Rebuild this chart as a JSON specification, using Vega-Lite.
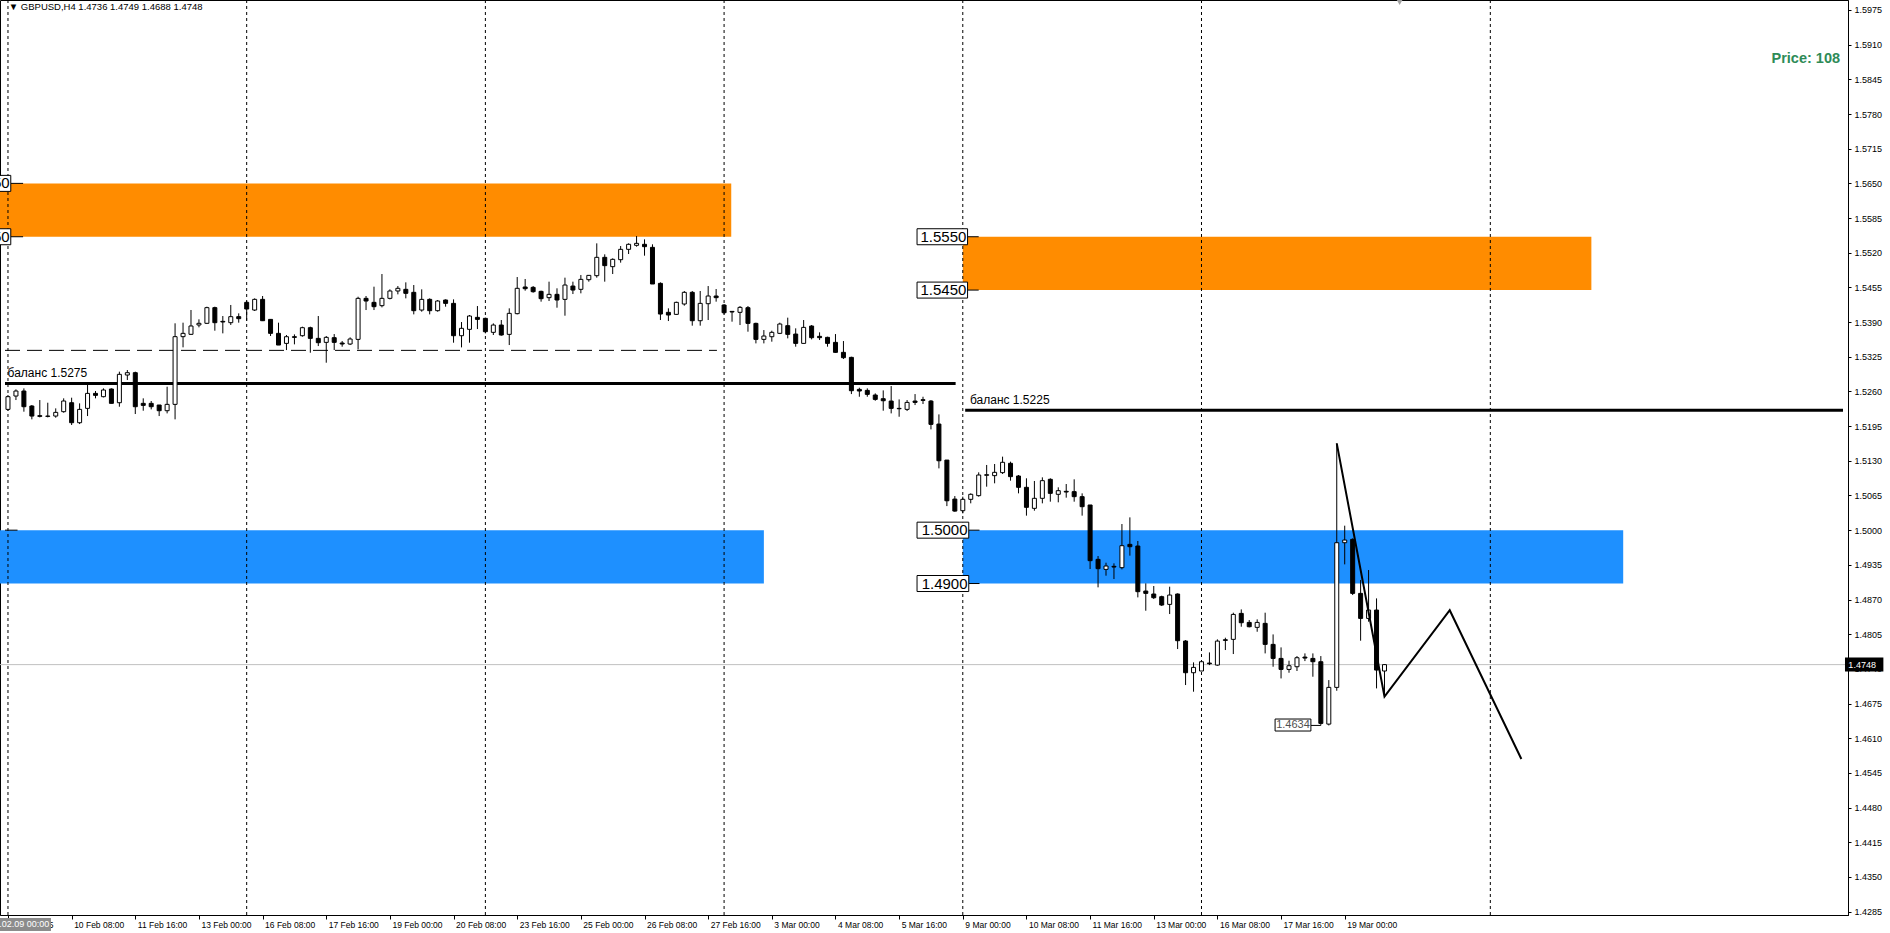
{
 "$schema": "https://vega.github.io/schema/vega-lite/v6.json",
 "width": 1848, "height": 915,
 "autosize": {"type": "none"},
 "padding": {"left": 0, "top": 0, "right": 42, "bottom": 18},
 "background": "#ffffff",
 "config": {
  "view": {"stroke": "#000000", "strokeWidth": 1},
  "axis": {"grid": false, "domainColor": "#000000", "tickColor": "#000000", "labelColor": "#000000", "labelFont": "Liberation Sans", "labelFontSize": 9, "domainWidth": 1, "tickWidth": 1, "labelOverlap": false, "labelFlush": false, "zindex": 0},
  "axisY": {"labelOverlap": false, "tickCount": 60},
  "axisX": {"tickCount": 60},
  "text": {"font": "Liberation Sans"}
 },
 "datasets": {
  "candles": [
{"bar":0,"o":1.52264,"h":1.52533,"l":1.52239,"c":1.52502},
{"bar":1,"o":1.52514,"h":1.52639,"l":1.52439,"c":1.52608},
{"bar":2,"o":1.52608,"h":1.52658,"l":1.52221,"c":1.52314},
{"bar":3,"o":1.52327,"h":1.52346,"l":1.52077,"c":1.52139},
{"bar":4,"o":1.52146,"h":1.52439,"l":1.52114,"c":1.52133},
{"bar":5,"o":1.52139,"h":1.52389,"l":1.52114,"c":1.52133},
{"bar":6,"o":1.52139,"h":1.52283,"l":1.52108,"c":1.52208},
{"bar":7,"o":1.52221,"h":1.52471,"l":1.52202,"c":1.52421},
{"bar":8,"o":1.52389,"h":1.52483,"l":1.51971,"c":1.52014},
{"bar":9,"o":1.52014,"h":1.52377,"l":1.51989,"c":1.52264},
{"bar":10,"o":1.52283,"h":1.52721,"l":1.52139,"c":1.52564},
{"bar":11,"o":1.52564,"h":1.52608,"l":1.52471,"c":1.52527},
{"bar":12,"o":1.52502,"h":1.52658,"l":1.52489,"c":1.52627},
{"bar":13,"o":1.52646,"h":1.52658,"l":1.52377,"c":1.52377},
{"bar":14,"o":1.52389,"h":1.52971,"l":1.52314,"c":1.52921},
{"bar":15,"o":1.52908,"h":1.53002,"l":1.52814,"c":1.52952},
{"bar":16,"o":1.52952,"h":1.52971,"l":1.52177,"c":1.52314},
{"bar":17,"o":1.52377,"h":1.52471,"l":1.52239,"c":1.52339},
{"bar":18,"o":1.52377,"h":1.52421,"l":1.52264,"c":1.52314},
{"bar":19,"o":1.52346,"h":1.52346,"l":1.52139,"c":1.52239},
{"bar":20,"o":1.52239,"h":1.52689,"l":1.52189,"c":1.52358},
{"bar":21,"o":1.52358,"h":1.53877,"l":1.52077,"c":1.53627},
{"bar":22,"o":1.53627,"h":1.53889,"l":1.53427,"c":1.53689},
{"bar":23,"o":1.53671,"h":1.54127,"l":1.53658,"c":1.53827},
{"bar":24,"o":1.53846,"h":1.53952,"l":1.53802,"c":1.53877},
{"bar":25,"o":1.53877,"h":1.54189,"l":1.53864,"c":1.54171},
{"bar":26,"o":1.54171,"h":1.54189,"l":1.53739,"c":1.53889},
{"bar":27,"o":1.53914,"h":1.54014,"l":1.53689,"c":1.53902},
{"bar":28,"o":1.53889,"h":1.54221,"l":1.53846,"c":1.54002},
{"bar":29,"o":1.54002,"h":1.54064,"l":1.53889,"c":1.53964},
{"bar":30,"o":1.54270,"h":1.54301,"l":1.53926,"c":1.54145},
{"bar":31,"o":1.54126,"h":1.54345,"l":1.54108,"c":1.54326},
{"bar":32,"o":1.54326,"h":1.54389,"l":1.53920,"c":1.53926},
{"bar":33,"o":1.53951,"h":1.53951,"l":1.53639,"c":1.53689},
{"bar":34,"o":1.53689,"h":1.53889,"l":1.53470,"c":1.53470},
{"bar":35,"o":1.53501,"h":1.53658,"l":1.53376,"c":1.53626},
{"bar":36,"o":1.53626,"h":1.53670,"l":1.53483,"c":1.53614},
{"bar":37,"o":1.53645,"h":1.53814,"l":1.53626,"c":1.53795},
{"bar":38,"o":1.53795,"h":1.53814,"l":1.53326,"c":1.53595},
{"bar":39,"o":1.53595,"h":1.54014,"l":1.53451,"c":1.53514},
{"bar":40,"o":1.53520,"h":1.53639,"l":1.53139,"c":1.53614},
{"bar":41,"o":1.53608,"h":1.53676,"l":1.53376,"c":1.53520},
{"bar":42,"o":1.53508,"h":1.53545,"l":1.53439,"c":1.53489},
{"bar":43,"o":1.53489,"h":1.53614,"l":1.53470,"c":1.53583},
{"bar":44,"o":1.53576,"h":1.54376,"l":1.53389,"c":1.54345},
{"bar":45,"o":1.54345,"h":1.54389,"l":1.54126,"c":1.54295},
{"bar":46,"o":1.54270,"h":1.54564,"l":1.54126,"c":1.54189},
{"bar":47,"o":1.54208,"h":1.54801,"l":1.54176,"c":1.54345},
{"bar":48,"o":1.54345,"h":1.54514,"l":1.54326,"c":1.54483},
{"bar":49,"o":1.54483,"h":1.54576,"l":1.54420,"c":1.54533},
{"bar":50,"o":1.54514,"h":1.54645,"l":1.54345,"c":1.54439},
{"bar":51,"o":1.54458,"h":1.54595,"l":1.54045,"c":1.54114},
{"bar":52,"o":1.54126,"h":1.54514,"l":1.54095,"c":1.54326},
{"bar":53,"o":1.54326,"h":1.54345,"l":1.54045,"c":1.54114},
{"bar":54,"o":1.54114,"h":1.54314,"l":1.54095,"c":1.54295},
{"bar":55,"o":1.54314,"h":1.54326,"l":1.54189,"c":1.54251},
{"bar":56,"o":1.54251,"h":1.54326,"l":1.53514,"c":1.53645},
{"bar":57,"o":1.53645,"h":1.53901,"l":1.53426,"c":1.53783},
{"bar":58,"o":1.53764,"h":1.54033,"l":1.53514,"c":1.54014},
{"bar":59,"o":1.53989,"h":1.54201,"l":1.53770,"c":1.53951},
{"bar":60,"o":1.53970,"h":1.53983,"l":1.53689,"c":1.53720},
{"bar":61,"o":1.53708,"h":1.53876,"l":1.53658,"c":1.53845},
{"bar":62,"o":1.53845,"h":1.53939,"l":1.53645,"c":1.53658},
{"bar":63,"o":1.53670,"h":1.54158,"l":1.53470,"c":1.54064},
{"bar":64,"o":1.54058,"h":1.54745,"l":1.54045,"c":1.54533},
{"bar":65,"o":1.54558,"h":1.54708,"l":1.54489,"c":1.54526},
{"bar":66,"o":1.54551,"h":1.54576,"l":1.54451,"c":1.54470},
{"bar":67,"o":1.54476,"h":1.54489,"l":1.54283,"c":1.54339},
{"bar":68,"o":1.54358,"h":1.54658,"l":1.54295,"c":1.54420},
{"bar":69,"o":1.54420,"h":1.54533,"l":1.54170,"c":1.54314},
{"bar":70,"o":1.54326,"h":1.54733,"l":1.54020,"c":1.54595},
{"bar":71,"o":1.54576,"h":1.54658,"l":1.54426,"c":1.54501},
{"bar":72,"o":1.54514,"h":1.54783,"l":1.54439,"c":1.54701},
{"bar":73,"o":1.54695,"h":1.54783,"l":1.54658,"c":1.54776},
{"bar":74,"o":1.54770,"h":1.55376,"l":1.54733,"c":1.55114},
{"bar":75,"o":1.55114,"h":1.55170,"l":1.54658,"c":1.54958},
{"bar":76,"o":1.54939,"h":1.55095,"l":1.54801,"c":1.55076},
{"bar":77,"o":1.55070,"h":1.55326,"l":1.55014,"c":1.55264},
{"bar":78,"o":1.55264,"h":1.55376,"l":1.55176,"c":1.55358},
{"bar":79,"o":1.55339,"h":1.55514,"l":1.55314,"c":1.55376},
{"bar":80,"o":1.55358,"h":1.55451,"l":1.55145,"c":1.55314},
{"bar":81,"o":1.55301,"h":1.55358,"l":1.54614,"c":1.54614},
{"bar":82,"o":1.54626,"h":1.54645,"l":1.53939,"c":1.54051},
{"bar":83,"o":1.54083,"h":1.54158,"l":1.53920,"c":1.54033},
{"bar":84,"o":1.54045,"h":1.54283,"l":1.54033,"c":1.54270},
{"bar":85,"o":1.54239,"h":1.54483,"l":1.54208,"c":1.54458},
{"bar":86,"o":1.54458,"h":1.54483,"l":1.53833,"c":1.53926},
{"bar":87,"o":1.53926,"h":1.54483,"l":1.53833,"c":1.54251},
{"bar":88,"o":1.54245,"h":1.54576,"l":1.53939,"c":1.54389},
{"bar":89,"o":1.54389,"h":1.54520,"l":1.54283,"c":1.54358},
{"bar":90,"o":1.54220,"h":1.54239,"l":1.54045,"c":1.54076},
{"bar":91,"o":1.54101,"h":1.54101,"l":1.53908,"c":1.54089},
{"bar":92,"o":1.54083,"h":1.54201,"l":1.53845,"c":1.54176},
{"bar":93,"o":1.54170,"h":1.54201,"l":1.53720,"c":1.53876},
{"bar":94,"o":1.53876,"h":1.53889,"l":1.53501,"c":1.53576},
{"bar":95,"o":1.53576,"h":1.53751,"l":1.53501,"c":1.53639},
{"bar":96,"o":1.53626,"h":1.53739,"l":1.53533,"c":1.53708},
{"bar":97,"o":1.53689,"h":1.53889,"l":1.53676,"c":1.53864},
{"bar":98,"o":1.53833,"h":1.53983,"l":1.53595,"c":1.53670},
{"bar":99,"o":1.53676,"h":1.53783,"l":1.53439,"c":1.53501},
{"bar":100,"o":1.53501,"h":1.53939,"l":1.53501,"c":1.53801},
{"bar":101,"o":1.53826,"h":1.53845,"l":1.53576,"c":1.53608},
{"bar":102,"o":1.53633,"h":1.53708,"l":1.53564,"c":1.53608},
{"bar":103,"o":1.53614,"h":1.53626,"l":1.53439,"c":1.53501},
{"bar":104,"o":1.53520,"h":1.53676,"l":1.53326,"c":1.53333},
{"bar":105,"o":1.53333,"h":1.53545,"l":1.53208,"c":1.53233},
{"bar":106,"o":1.53239,"h":1.53251,"l":1.52551,"c":1.52614},
{"bar":107,"o":1.52639,"h":1.52670,"l":1.52501,"c":1.52608},
{"bar":108,"o":1.52620,"h":1.52658,"l":1.52501,"c":1.52545},
{"bar":109,"o":1.52533,"h":1.52564,"l":1.52426,"c":1.52451},
{"bar":110,"o":1.52464,"h":1.52620,"l":1.52239,"c":1.52426},
{"bar":111,"o":1.52420,"h":1.52701,"l":1.52189,"c":1.52283},
{"bar":112,"o":1.52283,"h":1.52451,"l":1.52126,"c":1.52276},
{"bar":113,"o":1.52264,"h":1.52439,"l":1.52233,"c":1.52395},
{"bar":114,"o":1.52420,"h":1.52551,"l":1.52345,"c":1.52395},
{"bar":115,"o":1.52445,"h":1.52501,"l":1.52364,"c":1.52433},
{"bar":116,"o":1.52420,"h":1.52439,"l":1.51889,"c":1.51983},
{"bar":117,"o":1.51989,"h":1.52170,"l":1.51158,"c":1.51301},
{"bar":118,"o":1.51314,"h":1.51314,"l":1.50451,"c":1.50551},
{"bar":119,"o":1.50583,"h":1.50639,"l":1.50345,"c":1.50358},
{"bar":120,"o":1.50365,"h":1.50628,"l":1.50315,"c":1.50578},
{"bar":121,"o":1.50578,"h":1.50690,"l":1.50503,"c":1.50672},
{"bar":122,"o":1.50647,"h":1.51084,"l":1.50628,"c":1.51034},
{"bar":123,"o":1.51028,"h":1.51222,"l":1.50815,"c":1.51040},
{"bar":124,"o":1.51022,"h":1.51240,"l":1.50878,"c":1.51084},
{"bar":125,"o":1.51078,"h":1.51378,"l":1.51053,"c":1.51272},
{"bar":126,"o":1.51253,"h":1.51284,"l":1.50928,"c":1.51003},
{"bar":127,"o":1.51015,"h":1.51034,"l":1.50690,"c":1.50803},
{"bar":128,"o":1.50803,"h":1.50972,"l":1.50272,"c":1.50428},
{"bar":129,"o":1.50409,"h":1.50922,"l":1.50365,"c":1.50597},
{"bar":130,"o":1.50597,"h":1.50990,"l":1.50503,"c":1.50928},
{"bar":131,"o":1.50953,"h":1.50972,"l":1.50534,"c":1.50690},
{"bar":132,"o":1.50672,"h":1.50803,"l":1.50522,"c":1.50740},
{"bar":133,"o":1.50728,"h":1.50865,"l":1.50609,"c":1.50715},
{"bar":134,"o":1.50722,"h":1.50953,"l":1.50534,"c":1.50628},
{"bar":135,"o":1.50628,"h":1.50690,"l":1.50272,"c":1.50440},
{"bar":136,"o":1.50472,"h":1.50472,"l":1.49272,"c":1.49428},
{"bar":137,"o":1.49453,"h":1.49515,"l":1.48928,"c":1.49278},
{"bar":138,"o":1.49265,"h":1.49390,"l":1.49147,"c":1.49328},
{"bar":139,"o":1.49322,"h":1.49378,"l":1.49084,"c":1.49309},
{"bar":140,"o":1.49297,"h":1.50115,"l":1.49265,"c":1.49709},
{"bar":141,"o":1.49734,"h":1.50240,"l":1.49522,"c":1.49690},
{"bar":142,"o":1.49703,"h":1.49797,"l":1.48740,"c":1.48847},
{"bar":143,"o":1.48859,"h":1.49003,"l":1.48490,"c":1.48815},
{"bar":144,"o":1.48803,"h":1.48953,"l":1.48709,"c":1.48734},
{"bar":145,"o":1.48753,"h":1.48772,"l":1.48578,"c":1.48597},
{"bar":146,"o":1.48609,"h":1.48940,"l":1.48428,"c":1.48784},
{"bar":147,"o":1.48803,"h":1.48815,"l":1.47772,"c":1.47928},
{"bar":148,"o":1.47922,"h":1.47940,"l":1.47097,"c":1.47328},
{"bar":149,"o":1.47328,"h":1.47522,"l":1.46972,"c":1.47428},
{"bar":150,"o":1.47360,"h":1.47546,"l":1.47360,"c":1.47534},
{"bar":151,"o":1.47509,"h":1.47709,"l":1.47471,"c":1.47496},
{"bar":152,"o":1.47471,"h":1.47953,"l":1.47459,"c":1.47921},
{"bar":153,"o":1.47946,"h":1.47984,"l":1.47753,"c":1.47934},
{"bar":154,"o":1.47953,"h":1.48453,"l":1.47678,"c":1.48421},
{"bar":155,"o":1.48440,"h":1.48515,"l":1.48190,"c":1.48265},
{"bar":156,"o":1.48271,"h":1.48315,"l":1.48178,"c":1.48190},
{"bar":157,"o":1.48178,"h":1.48328,"l":1.48096,"c":1.48271},
{"bar":158,"o":1.48253,"h":1.48453,"l":1.47690,"c":1.47859},
{"bar":159,"o":1.47859,"h":1.48046,"l":1.47440,"c":1.47596},
{"bar":160,"o":1.47596,"h":1.47803,"l":1.47221,"c":1.47390},
{"bar":161,"o":1.47390,"h":1.47553,"l":1.47328,"c":1.47459},
{"bar":162,"o":1.47440,"h":1.47640,"l":1.47360,"c":1.47609},
{"bar":163,"o":1.47621,"h":1.47690,"l":1.47546,"c":1.47603},
{"bar":164,"o":1.47596,"h":1.47690,"l":1.47253,"c":1.47534},
{"bar":165,"o":1.47534,"h":1.47640,"l":1.46340,"c":1.46378},
{"bar":166,"o":1.46365,"h":1.47190,"l":1.46340,"c":1.47053},
{"bar":167,"o":1.47053,"h":1.51628,"l":1.46990,"c":1.49765},
{"bar":168,"o":1.49765,"h":1.50084,"l":1.49359,"c":1.49815},
{"bar":169,"o":1.49828,"h":1.49846,"l":1.48784,"c":1.48815},
{"bar":170,"o":1.48815,"h":1.49065,"l":1.47928,"c":1.48346},
{"bar":171,"o":1.48346,"h":1.49253,"l":1.48284,"c":1.48503},
{"bar":172,"o":1.48503,"h":1.48721,"l":1.47034,"c":1.47378},
{"bar":173,"o":1.47360,"h":1.47490,"l":1.46880,"c":1.47480}
  ]
 },
 "layer": [
  {
   "data": {"values": [
    {"x1": -2, "x2": 90.9, "p1": 1.5550, "p2": 1.5650, "kind": "supply"},
    {"x1": -2, "x2": 95.0, "p1": 1.4900, "p2": 1.5000, "kind": "demand"},
    {"x1": 120, "x2": 199, "p1": 1.5450, "p2": 1.5550, "kind": "supply"},
    {"x1": 120, "x2": 203, "p1": 1.4900, "p2": 1.5000, "kind": "demand"}
   ]},
   "mark": {"type": "rect"},
   "encoding": {
    "x": {"field": "x1", "type": "quantitative", "title": null,
     "scale": {"domain": [-0.375, 230.625], "nice": false, "zero": false},
     "axis": {"values": [0,8,16,24,32,40,48,56,64,72,80,88,96,104,112,120,128,136,144,152,160,168], "tickCount": 60,
      "labelExpr": "['9 Feb 2015','10 Feb 08:00','11 Feb 16:00','13 Feb 00:00','16 Feb 08:00','17 Feb 16:00','19 Feb 00:00','20 Feb 08:00','23 Feb 16:00','25 Feb 00:00','26 Feb 08:00','27 Feb 16:00','3 Mar 00:00','4 Mar 08:00','5 Mar 16:00','9 Mar 00:00','10 Mar 08:00','11 Mar 16:00','13 Mar 00:00','16 Mar 08:00','17 Mar 16:00','19 Mar 00:00'][round(datum.value/8)]",
      "labelAlign": "left", "labelOffset": 2, "tickSize": 4, "labelPadding": 1, "labelFontSize": 8.5, "labelBaseline": "top", "labelOverlap": false, "labelFlush": false}},
    "x2": {"field": "x2"},
    "y": {"field": "p1", "type": "quantitative", "title": null,
     "scale": {"domain": [1.427867, 1.599374], "nice": false, "zero": false},
     "axis": {"orient": "right", "values": [1.4285,1.435,1.4415,1.448,1.4545,1.461,1.4675,1.474,1.4805,1.487,1.4935,1.5,1.5065,1.513,1.5195,1.526,1.5325,1.539,1.5455,1.552,1.5585,1.565,1.5715,1.578,1.5845,1.591,1.5975], "tickCount": 60,
      "format": ".4f", "tickSize": 3, "labelPadding": 3, "labelOverlap": false, "labelFlush": false, "labelFontSize": 9, "labelBaseline": "middle"}},
    "y2": {"field": "p2"},
    "color": {"field": "kind", "type": "nominal", "scale": {"domain": ["supply", "demand"], "range": ["#FF8C00", "#1E90FF"]}, "legend": null}
   }
  },
  {
   "data": {"values": [{"bar": 0}, {"bar": 30}, {"bar": 60}, {"bar": 90}, {"bar": 120}, {"bar": 150}, {"bar": 186.3}]},
   "mark": {"type": "rule", "color": "#000000", "strokeWidth": 1, "strokeDash": [3, 3]},
   "encoding": {
    "x": {"field": "bar", "type": "quantitative", "title": null, "scale": {"domain": [-0.375, 230.625], "nice": false, "zero": false}}
   }
  },
  {
   "data": {"values": [{"p": 1.4748}]},
   "mark": {"type": "rule", "color": "#C0C0C0", "strokeWidth": 1},
   "encoding": {
    "y": {"field": "p", "type": "quantitative", "title": null, "scale": {"domain": [1.427867, 1.599374], "nice": false, "zero": false}}
   }
  },
  {
   "data": {"values": [
    {"x1": -0.375, "x2": 119.1, "p": 1.5275},
    {"x1": 120.3, "x2": 230.625, "p": 1.5225}
   ]},
   "mark": {"type": "rule", "color": "#000000", "strokeWidth": 3},
   "encoding": {
    "x": {"field": "x1", "type": "quantitative", "title": null, "scale": {"domain": [-0.375, 230.625], "nice": false, "zero": false}},
    "x2": {"field": "x2"},
    "y": {"field": "p", "type": "quantitative", "title": null, "scale": {"domain": [1.427867, 1.599374], "nice": false, "zero": false}}
   }
  },
  {
   "data": {"values": [{"x1": -0.375, "x2": 89.1, "p": 1.5337}]},
   "mark": {"type": "rule", "color": "#000000", "strokeWidth": 1, "strokeDash": [15, 7]},
   "encoding": {
    "x": {"field": "x1", "type": "quantitative", "title": null, "scale": {"domain": [-0.375, 230.625], "nice": false, "zero": false}},
    "x2": {"field": "x2"},
    "y": {"field": "p", "type": "quantitative", "title": null, "scale": {"domain": [1.427867, 1.599374], "nice": false, "zero": false}}
   }
  },
  {
   "data": {"name": "candles"},
   "mark": {"type": "rule", "color": "#000000", "strokeWidth": 1},
   "encoding": {
    "x": {"field": "bar", "type": "quantitative", "title": null, "scale": {"domain": [-0.375, 230.625], "nice": false, "zero": false}},
    "y": {"field": "l", "type": "quantitative", "title": null, "scale": {"domain": [1.427867, 1.599374], "nice": false, "zero": false}},
    "y2": {"field": "h"}
   }
  },
  {
   "data": {"name": "candles"},
   "mark": {"type": "bar", "orient": "vertical", "size": 4, "stroke": "#000000", "strokeWidth": 1},
   "encoding": {
    "x": {"field": "bar", "type": "quantitative", "title": null, "scale": {"domain": [-0.375, 230.625], "nice": false, "zero": false}},
    "y": {"field": "o", "type": "quantitative", "title": null, "scale": {"domain": [1.427867, 1.599374], "nice": false, "zero": false}},
    "y2": {"field": "c"},
    "fill": {"condition": {"test": "datum.c < datum.o", "value": "#000000"}, "value": "#ffffff"}
   }
  },
  {
   "data": {"values": [
    {"bar": 167, "p": 1.51628},
    {"bar": 173, "p": 1.4688},
    {"bar": 181.2, "p": 1.4850},
    {"bar": 190.2, "p": 1.4571}
   ]},
   "mark": {"type": "line", "color": "#000000", "strokeWidth": 2},
   "encoding": {
    "x": {"field": "bar", "type": "quantitative", "title": null, "scale": {"domain": [-0.375, 230.625], "nice": false, "zero": false}},
    "y": {"field": "p", "type": "quantitative", "title": null, "scale": {"domain": [1.427867, 1.599374], "nice": false, "zero": false}}
   }
  },
  {
   "data": {"values": [
    {"x1": 120.6, "x2": 122.0, "p": 1.5550},
    {"x1": 120.6, "x2": 122.0, "p": 1.5450},
    {"x1": 120.75, "x2": 122.1, "p": 1.5000},
    {"x1": 120.75, "x2": 122.1, "p": 1.4900},
    {"x1": 0.35, "x2": 1.9, "p": 1.5650},
    {"x1": 0.35, "x2": 1.9, "p": 1.5550},
    {"x1": -0.375, "x2": 1.2, "p": 1.5000},
    {"x1": 163.75, "x2": 165, "p": 1.4634}
   ]},
   "mark": {"type": "rule", "color": "#000000", "strokeWidth": 1},
   "encoding": {
    "x": {"field": "x1", "type": "quantitative", "title": null, "scale": {"domain": [-0.375, 230.625], "nice": false, "zero": false}},
    "x2": {"field": "x2"},
    "y": {"field": "p", "type": "quantitative", "title": null, "scale": {"domain": [1.427867, 1.599374], "nice": false, "zero": false}}
   }
  },
  {
   "data": {"values": [
    {"x1": 114.25, "x2": 120.6, "p1": 1.5535, "p2": 1.5565},
    {"x1": 114.25, "x2": 120.6, "p1": 1.5435, "p2": 1.5465},
    {"x1": 114.25, "x2": 120.75, "p1": 1.4985, "p2": 1.5015},
    {"x1": 114.25, "x2": 120.75, "p1": 1.4885, "p2": 1.4915},
    {"x1": -6, "x2": 0.35, "p1": 1.5635, "p2": 1.5665},
    {"x1": -6, "x2": 0.35, "p1": 1.5535, "p2": 1.5565},
    {"x1": 159.25, "x2": 163.75, "p1": 1.46235, "p2": 1.4646}
   ]},
   "mark": {"type": "rect", "fill": "#ffffff", "stroke": "#000000", "strokeWidth": 1},
   "encoding": {
    "x": {"field": "x1", "type": "quantitative", "title": null, "scale": {"domain": [-0.375, 230.625], "nice": false, "zero": false}},
    "x2": {"field": "x2"},
    "y": {"field": "p1", "type": "quantitative", "title": null, "scale": {"domain": [1.427867, 1.599374], "nice": false, "zero": false}},
    "y2": {"field": "p2"}
   }
  },
  {
   "data": {"values": [
    {"bar": 120.45, "p": 1.5550, "label": "1.5550"},
    {"bar": 120.45, "p": 1.5450, "label": "1.5450"},
    {"bar": 120.6, "p": 1.5000, "label": "1.5000"},
    {"bar": 120.6, "p": 1.4900, "label": "1.4900"},
    {"bar": 0.2, "p": 1.5650, "label": "1.5650"},
    {"bar": 0.2, "p": 1.5550, "label": "1.5550"}
   ]},
   "mark": {"type": "text", "align": "right", "baseline": "middle", "fontSize": 15, "font": "Liberation Sans", "color": "#000000"},
   "encoding": {
    "x": {"field": "bar", "type": "quantitative", "title": null, "scale": {"domain": [-0.375, 230.625], "nice": false, "zero": false}},
    "y": {"field": "p", "type": "quantitative", "title": null, "scale": {"domain": [1.427867, 1.599374], "nice": false, "zero": false}},
    "text": {"field": "label"}
   }
  },
  {
   "data": {"values": [{"bar": 161.5, "p": 1.46347, "label": "1.4634"}]},
   "mark": {"type": "text", "align": "center", "baseline": "middle", "fontSize": 11, "font": "Liberation Sans", "color": "#505050"},
   "encoding": {
    "x": {"field": "bar", "type": "quantitative", "title": null, "scale": {"domain": [-0.375, 230.625], "nice": false, "zero": false}},
    "y": {"field": "p", "type": "quantitative", "title": null, "scale": {"domain": [1.427867, 1.599374], "nice": false, "zero": false}},
    "text": {"field": "label"}
   }
  },
  {
   "data": {"values": [
    {"bar": -0.05, "p": 1.5275, "label": "баланс 1.5275"},
    {"bar": 120.9, "p": 1.5225, "label": "баланс 1.5225"}
   ]},
   "mark": {"type": "text", "align": "left", "baseline": "alphabetic", "dy": -6, "fontSize": 12, "font": "Liberation Sans", "color": "#000000"},
   "encoding": {
    "x": {"field": "bar", "type": "quantitative", "title": null, "scale": {"domain": [-0.375, 230.625], "nice": false, "zero": false}},
    "y": {"field": "p", "type": "quantitative", "title": null, "scale": {"domain": [1.427867, 1.599374], "nice": false, "zero": false}},
    "text": {"field": "label"}
   }
  },
  {
   "data": {"values": [{"bar": 0.1, "p": 1.59806, "label": "▼ GBPUSD,H4  1.4736 1.4749 1.4688 1.4748"}]},
   "mark": {"type": "text", "align": "left", "baseline": "middle", "fontSize": 9.5, "font": "Liberation Sans", "color": "#000000"},
   "encoding": {
    "x": {"field": "bar", "type": "quantitative", "title": null, "scale": {"domain": [-0.375, 230.625], "nice": false, "zero": false}},
    "y": {"field": "p", "type": "quantitative", "title": null, "scale": {"domain": [1.427867, 1.599374], "nice": false, "zero": false}},
    "text": {"field": "label"}
   }
  },
  {
   "data": {"values": [{"bar": 230.25, "p": 1.58832, "label": "Price: 108"}]},
   "mark": {"type": "text", "align": "right", "baseline": "middle", "fontSize": 14.5, "fontWeight": "bold", "font": "Liberation Sans", "color": "#2E8B57"},
   "encoding": {
    "x": {"field": "bar", "type": "quantitative", "title": null, "scale": {"domain": [-0.375, 230.625], "nice": false, "zero": false}},
    "y": {"field": "p", "type": "quantitative", "title": null, "scale": {"domain": [1.427867, 1.599374], "nice": false, "zero": false}},
    "text": {"field": "label"}
   }
  },
  {
   "data": {"values": [{"x1": 230.875, "x2": 235.7, "p1": 1.47349, "p2": 1.47611}]},
   "mark": {"type": "rect", "fill": "#000000"},
   "encoding": {
    "x": {"field": "x1", "type": "quantitative", "title": null, "scale": {"domain": [-0.375, 230.625], "nice": false, "zero": false}},
    "x2": {"field": "x2"},
    "y": {"field": "p1", "type": "quantitative", "title": null, "scale": {"domain": [1.427867, 1.599374], "nice": false, "zero": false}},
    "y2": {"field": "p2"}
   }
  },
  {
   "data": {"values": [{"x1": -2, "x2": 5.4, "p1": 1.42487, "p2": 1.4273}]},
   "mark": {"type": "rect", "fill": "#8C8C8C"},
   "encoding": {
    "x": {"field": "x1", "type": "quantitative", "title": null, "scale": {"domain": [-0.375, 230.625], "nice": false, "zero": false}},
    "x2": {"field": "x2"},
    "y": {"field": "p1", "type": "quantitative", "title": null, "scale": {"domain": [1.427867, 1.599374], "nice": false, "zero": false}},
    "y2": {"field": "p2"}
   }
  },
  {
   "data": {"values": [{"bar": 231.3, "p": 1.4748, "label": "1.4748"}]},
   "mark": {"type": "text", "align": "left", "baseline": "middle", "fontSize": 9, "font": "Liberation Sans", "color": "#ffffff"},
   "encoding": {
    "x": {"field": "bar", "type": "quantitative", "title": null, "scale": {"domain": [-0.375, 230.625], "nice": false, "zero": false}},
    "y": {"field": "p", "type": "quantitative", "title": null, "scale": {"domain": [1.427867, 1.599374], "nice": false, "zero": false}},
    "text": {"field": "label"}
   }
  },
  {
   "data": {"values": [{"bar": 5.2, "p": 1.4261, "label": "2015.02.09 00:00"}]},
   "mark": {"type": "text", "align": "right", "baseline": "middle", "fontSize": 9, "font": "Liberation Sans", "color": "#ffffff"},
   "encoding": {
    "x": {"field": "bar", "type": "quantitative", "title": null, "scale": {"domain": [-0.375, 230.625], "nice": false, "zero": false}},
    "y": {"field": "p", "type": "quantitative", "title": null, "scale": {"domain": [1.427867, 1.599374], "nice": false, "zero": false}},
    "text": {"field": "label"}
   }
  },
  {
   "data": {"values": [{"bar": 174.9, "p": 1.5990}]},
   "mark": {"type": "point", "shape": "triangle-down", "filled": true, "size": 45, "color": "#A0A0A0", "opacity": 1},
   "encoding": {
    "x": {"field": "bar", "type": "quantitative", "title": null, "scale": {"domain": [-0.375, 230.625], "nice": false, "zero": false}},
    "y": {"field": "p", "type": "quantitative", "title": null, "scale": {"domain": [1.427867, 1.599374], "nice": false, "zero": false}}
   }
  }
 ]
}
